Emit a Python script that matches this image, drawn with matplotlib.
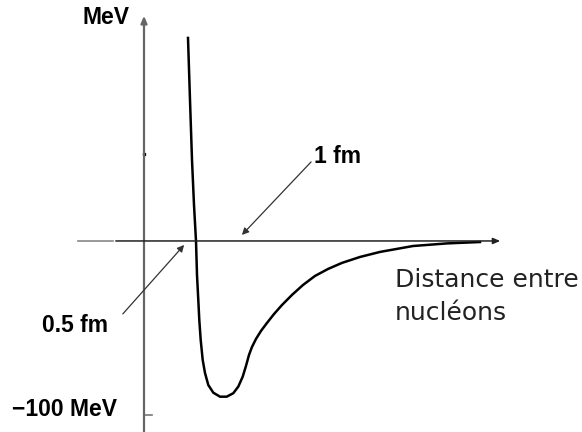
import numpy as np
import matplotlib
matplotlib.use("Agg")
import matplotlib.pyplot as plt

# potential curve: distance in fm, energy in MeV
dist = [0.44, 0.46, 0.48, 0.50, 0.52, 0.53, 0.543, 0.553, 0.567, 0.587,
        0.61, 0.643, 0.693, 0.76, 0.827, 0.893, 0.943, 0.987, 1.02, 1.05,
        1.08, 1.12, 1.17, 1.23, 1.30, 1.38, 1.48, 1.59, 1.71, 1.84, 1.98,
        2.16, 2.36, 2.69, 3.03, 3.36]
energy = [116.7, 81.0, 46.6, 20.7, 0.0, -19.5, -33.9, -45.4, -56.9, -68.4,
          -75.9, -82.8, -87.2, -89.5, -89.5, -87.5, -83.7, -78.0, -71.8,
          -65.5, -60.9, -56.3, -51.7, -47.1, -42.0, -36.8, -31.0, -25.3,
          -20.1, -16.1, -12.6, -9.2, -6.3, -2.9, -1.4, -0.6]

tick_mev = [50]
label_bottom = "\u2212100 MeV"
label_top = "MeV"
xlabel_lines = ["Distance entre", "nucl\u00e9ons"]
marks = {"0.5 fm": (0.42, -1.1), "1 fm": (0.96, 2.3)}

bold = dict(family="Liberation Sans", weight="bold", fontsize=16.5, color="black")


def main():
    fig = plt.figure(figsize=(5.82, 4.32), dpi=100)
    ax = fig.add_axes([0, 0, 1, 1])
    ax.set_xlim(-1.44, 4.38)
    ax.set_ylim(-109.8, 138.5)
    ax.axis("off")

    # axes drawn by hand like the sketch
    ax.annotate("", xy=(0, 131), xytext=(0, -112),
                arrowprops=dict(arrowstyle="-|>,head_length=0.35,head_width=0.15",
                                color="#666666", lw=1.6, mutation_scale=12))
    ax.plot([-0.66, -0.31], [0, 0], color="#888888", lw=1.2)
    ax.annotate("", xy=(3.59, 0), xytext=(-0.31, 0),
                arrowprops=dict(arrowstyle="-|>,head_length=0.35,head_width=0.15",
                                color="#222222", lw=1.1, mutation_scale=12))
    ax.plot([0] * len(tick_mev), tick_mev, "s", color="black", ms=2)
    ax.plot([0, 0.08], [-100, -100], color="#777777", lw=1.2)

    ax.plot(dist, energy, color="black", lw=1.8, solid_joinstyle="round")

    # labels
    ax.text(-0.38, 128.2, label_top, ha="center", va="center", **bold)
    ax.text(-0.27, -96.8, label_bottom, ha="right", va="center", **bold)
    ax.text(-0.36, -48.3, "0.5 fm", ha="right", va="center", **bold)
    ax.text(1.70, 48.3, "1 fm", ha="left", va="center", **bold)

    ax.annotate("", xy=marks["0.5 fm"], xytext=(-0.23, -43.1),
                arrowprops=dict(arrowstyle="-|>,head_length=0.4,head_width=0.2",
                                color="#333333", lw=0.9, mutation_scale=10))
    ax.annotate("", xy=marks["1 fm"], xytext=(1.69, 46.6),
                arrowprops=dict(arrowstyle="-|>,head_length=0.4,head_width=0.2",
                                color="#333333", lw=0.9, mutation_scale=10))

    ax.text(2.51, -26.4, xlabel_lines[0], ha="left", va="baseline",
            family="DejaVu Sans", fontsize=18, color="#222222")
    ax.text(2.51, -45.4, xlabel_lines[1], ha="left", va="baseline",
            family="DejaVu Sans", fontsize=18, color="#222222")

    fig.savefig("out.png", dpi=100)


if __name__ == '__main__':
    main()
